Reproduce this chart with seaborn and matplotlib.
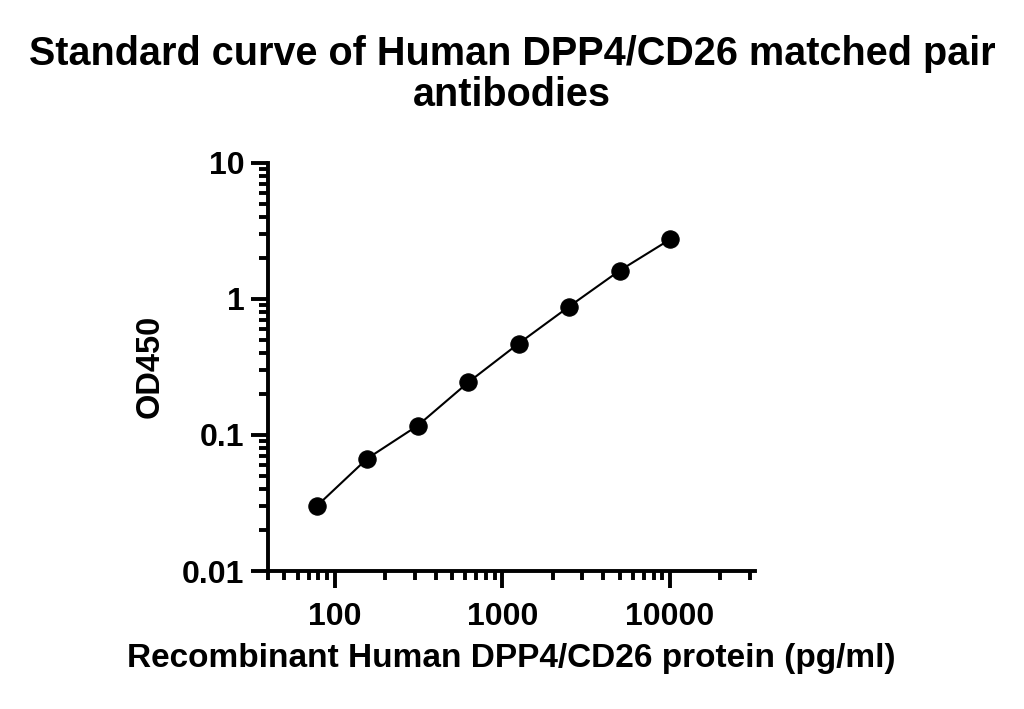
import numpy as np
import pandas as pd

import matplotlib
matplotlib.use('Agg')
import matplotlib.pyplot as plt
from matplotlib.ticker import LogLocator, FixedLocator, NullFormatter
import seaborn as sns

# standard curve values
concentration = [78.125, 156.25, 312.5, 625, 1250, 2500, 5000, 10000]
od450 = [0.030, 0.067, 0.117, 0.243, 0.469, 0.877, 1.61, 2.73]

x_ticks = [100, 1000, 10000]
x_tick_labels = ['100', '1000', '10000']
y_ticks = [0.01, 0.1, 1, 10]
y_tick_labels = ['0.01', '0.1', '1', '10']

title = 'Standard curve of Human DPP4/CD26 matched pair\nantibodies'
x_label = 'Recombinant Human DPP4/CD26 protein (pg/ml)'
y_label = 'OD450'

df = pd.DataFrame({'conc': concentration, 'od': od450})

sns.set_style('ticks')
plt.rcParams['font.family'] = ['Liberation Sans', 'DejaVu Sans']
plt.rcParams['font.weight'] = 'bold'
for key in ['text.color', 'axes.labelcolor', 'xtick.color', 'ytick.color', 'axes.edgecolor']:
    plt.rcParams[key] = 'black'

fig = plt.figure(figsize=(10.24, 7.09), dpi=100)
ax = fig.add_axes([0.2617, 0.1946, 0.737 - 0.2617, 0.7705 - 0.1946])

sns.lineplot(data=df, x='conc', y='od', ax=ax, color='black', linewidth=1.5,
             marker='o', markersize=12.5, markeredgecolor='black')

ax.set_xscale('log')
ax.set_yscale('log')
ax.set_xlim(40, 32000)
ax.set_ylim(0.01, 10)

ax.xaxis.set_major_locator(FixedLocator(x_ticks))
ax.set_xticklabels(x_tick_labels)
ax.xaxis.set_minor_locator(LogLocator(base=10, subs=np.arange(2, 10)))
ax.xaxis.set_minor_formatter(NullFormatter())
ax.yaxis.set_major_locator(FixedLocator(y_ticks))
ax.set_yticklabels(y_tick_labels)
ax.yaxis.set_minor_locator(LogLocator(base=10, subs=np.arange(2, 10)))
ax.yaxis.set_minor_formatter(NullFormatter())

sns.despine(ax=ax)
for side in ['left', 'bottom']:
    ax.spines[side].set_linewidth(2.8)

ax.tick_params(axis='both', which='major', length=12, width=2.8)
ax.tick_params(axis='both', which='minor', length=6.5, width=2.8)
ax.tick_params(axis='x', which='major', pad=10, labelsize=23)
ax.tick_params(axis='y', which='major', pad=5, labelsize=23)
for lbl in ax.get_xticklabels() + ax.get_yticklabels():
    lbl.set_fontweight('bold')

ax.set_xlabel(x_label, fontsize=24, fontweight='bold', labelpad=8)
ax.set_ylabel(y_label, fontsize=23.5, fontweight='bold', labelpad=12)
fig.suptitle(title, fontsize=28.5, fontweight='bold', y=0.951, linespacing=1.1)

plt.savefig('out.png', dpi=100)
